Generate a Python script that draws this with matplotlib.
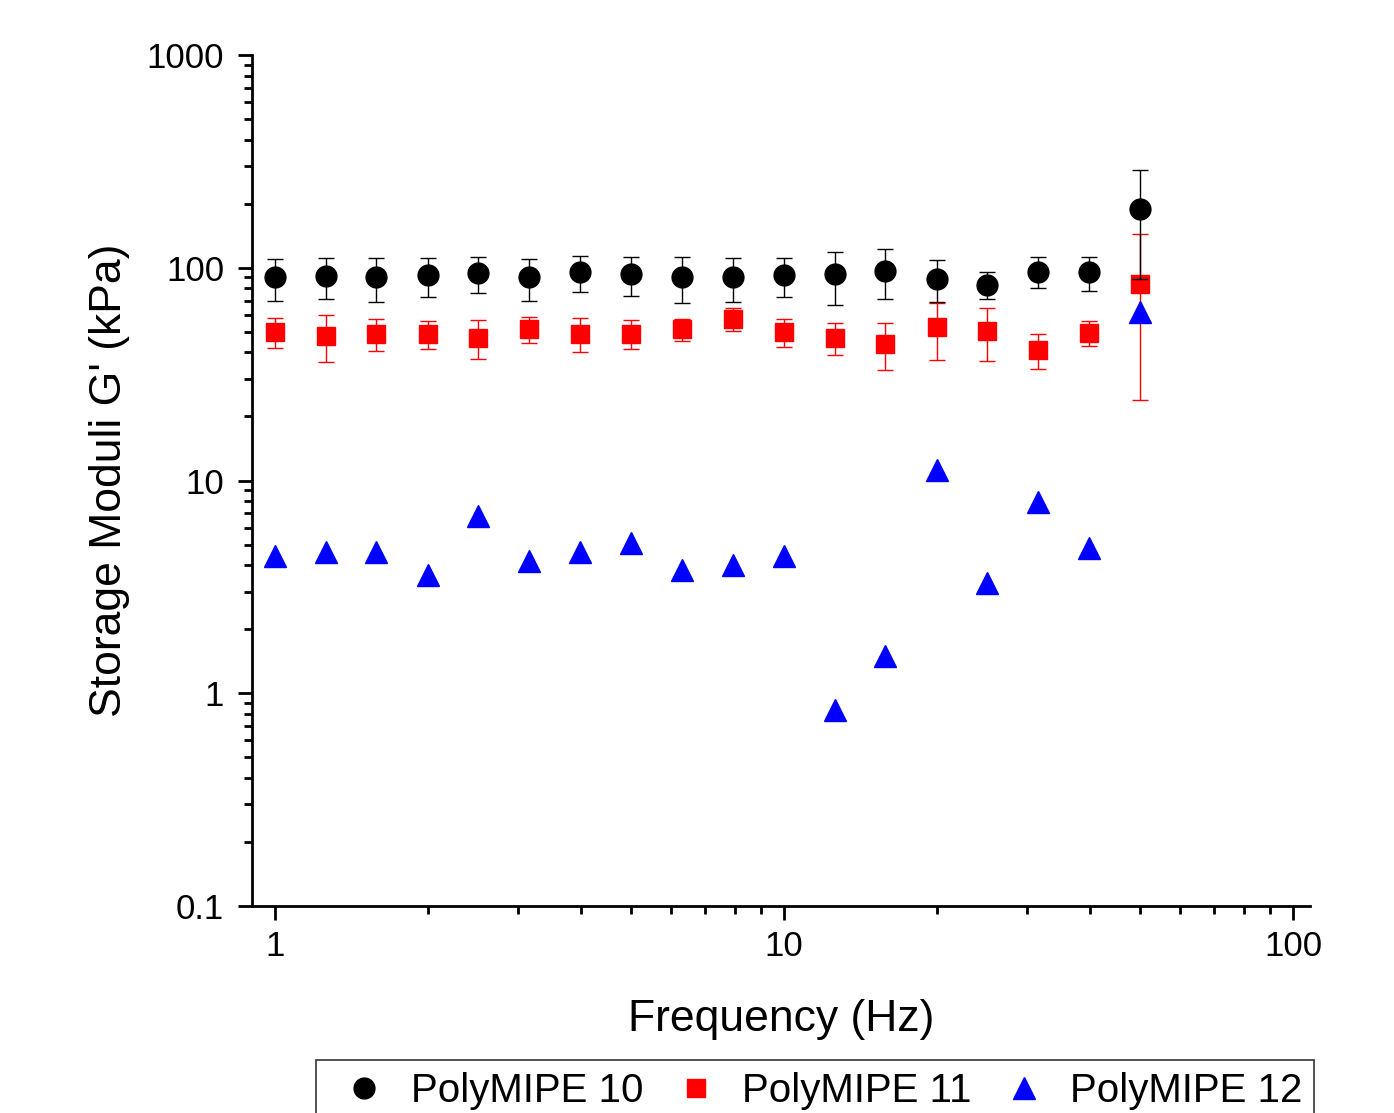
import matplotlib
matplotlib.use("Agg")
import matplotlib.pyplot as plt
from matplotlib.lines import Line2D
from matplotlib.ticker import FixedLocator, FixedFormatter, LogLocator, NullFormatter

plt.rcParams["font.family"] = ["Liberation Sans", "DejaVu Sans"]

# frequency sweep (Hz)
freq = [1, 1.26, 1.58, 2, 2.51, 3.16, 3.98, 5.01, 6.31, 7.94,
        10, 12.6, 15.8, 20, 25.1, 31.6, 39.8, 50.1]

# storage moduli G' (kPa)
pm10 = [90, 91, 90, 92, 94, 90, 95, 93, 90, 90,
        92, 93, 97, 89, 83, 96, 95, 189]
pm10_err = [20, 20, 21, 19, 18, 20, 18, 19, 22, 21,
            19, 26, 26, 20, 12, 16, 17, 100]
pm11 = [50, 48, 49, 49, 47, 51.5, 49, 49, 51.5, 57.6,
        50, 47, 44, 52.5, 50.4, 41, 49.4, 84]
pm11_err = [8, 12, 8.5, 7.5, 9.7, 7, 9, 7.7, 6, 7,
            7.5, 8, 11, 15.5, 14, 7.7, 6.5, 60]
pm12 = [4.4, 4.6, 4.6, 3.6, 6.8, 4.2, 4.6, 5.1, 3.8, 4.0,
        4.4, 0.83, 1.5, 11.2, 3.3, 7.9, 4.8, 62]

labels = ["PolyMIPE 10", "PolyMIPE 11", "PolyMIPE 12"]
yticks = [0.1, 1, 10, 100, 1000]
ytick_labels = ["0.1", "1", "10", "100", "1000"]
xticks = [1, 10, 100]
xtick_labels = ["1", "10", "100"]

W, H = 1394, 1113
fig = plt.figure(figsize=(W / 100, H / 100), dpi=100)
ax = fig.add_axes([252 / W, 1 - 906 / H, (1310 - 252) / W, (906 - 55) / H])

ebkw = dict(linestyle="none", capsize=6, elinewidth=1.0, capthick=1.0)
ax.errorbar(freq, pm11, yerr=pm11_err, fmt="s", color="#FF0000",
            ms=13, zorder=2, **ebkw)
ax.errorbar(freq, pm10, yerr=pm10_err, fmt="o", color="#000000",
            ms=15, zorder=3, **ebkw)
ax.plot(freq, pm12, "^", color="#0000FF", ms=16, linestyle="none", zorder=4)

ax.set_xscale("log")
ax.set_yscale("log")
ax.set_xlim(0.901, 108)
ax.set_ylim(0.1, 1000)

ax.yaxis.set_major_locator(FixedLocator(yticks))
ax.yaxis.set_major_formatter(FixedFormatter(ytick_labels))
ax.xaxis.set_major_locator(FixedLocator(xticks))
ax.xaxis.set_major_formatter(FixedFormatter(xtick_labels))
ax.yaxis.set_minor_locator(LogLocator(base=10, subs=range(2, 10)))
ax.xaxis.set_minor_locator(LogLocator(base=10, subs=range(2, 10)))
ax.yaxis.set_minor_formatter(NullFormatter())
ax.xaxis.set_minor_formatter(NullFormatter())

for side in ["top", "right"]:
    ax.spines[side].set_visible(False)
for side in ["left", "bottom"]:
    ax.spines[side].set_linewidth(2)

ax.tick_params(which="major", direction="out", length=10, width=2,
               labelsize=25)
ax.tick_params(which="minor", direction="out", length=6, width=2)
ax.tick_params(axis="y", which="major", pad=10)
ax.tick_params(axis="x", which="major", pad=7)

ax.set_xlabel("Frequency (Hz)", fontsize=32, labelpad=26)
ax.set_ylabel("Storage Moduli G' (kPa)", fontsize=32, labelpad=12)

# legend shows markers only
handles = [
    Line2D([], [], marker="o", color="#000000", ms=15, linestyle="none"),
    Line2D([], [], marker="s", color="#FF0000", ms=13, linestyle="none"),
    Line2D([], [], marker="^", color="#0000FF", ms=16, linestyle="none"),
]
leg = fig.legend(handles, labels, loc="upper left",
                 bbox_to_anchor=(316 / W, 1 - 1060 / H), ncol=3,
                 fontsize=29, frameon=True, fancybox=False,
                 handlelength=1.8, handletextpad=0.25, columnspacing=0.4,
                 borderpad=0.3, borderaxespad=0)
leg.get_frame().set_edgecolor("black")
leg.get_frame().set_linewidth(1.2)

fig.savefig("out.png", dpi=100)
